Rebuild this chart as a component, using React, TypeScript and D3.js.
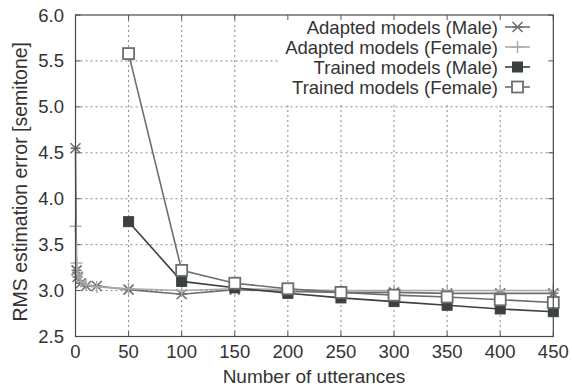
import React from 'react';
import * as d3 from 'd3';

// utterance counts
const xAdapted = [0, 1, 2, 5, 10, 20, 50, 100, 150, 200, 250, 300, 350, 400, 450];
const xTrained = [50, 100, 150, 200, 250, 300, 350, 400, 450];

// RMS error [semitone]
const adaptedMale = [4.55, 3.22, 3.15, 3.08, 3.05, 3.05, 3.01, 2.96, 3.01, 2.99, 2.98, 2.98, 2.97, 2.97, 2.97];
const adaptedFemale = [3.7, 3.3, 3.18, 3.1, 3.06, 3.04, 3.02, 3.0, 3.02, 3.01, 3.0, 3.0, 3.0, 3.0, 3.0];
const trainedMale = [3.75, 3.1, 3.03, 2.97, 2.92, 2.88, 2.84, 2.8, 2.77];
const trainedFemale = [5.58, 3.22, 3.08, 3.02, 2.98, 2.95, 2.93, 2.9, 2.87];

const xTicks = [0, 50, 100, 150, 200, 250, 300, 350, 400, 450];
const yTicks = [2.5, 3.0, 3.5, 4.0, 4.5, 5.0, 5.5, 6.0];

const seriesNames = [
  'Adapted models (Male)',
  'Adapted models (Female)',
  'Trained models (Male)',
  'Trained models (Female)',
];

const W = 572, H = 388;
const left = 75.5, right = 553.3, top = 15, bottom = 336.5;
const FONT = 'Liberation Sans, Arial, sans-serif';

const x = d3.scaleLinear().domain([0, 450]).range([left, right]);
const y = d3.scaleLinear().domain([2.5, 6]).range([bottom, top]);

type Sym = 'star' | 'plus' | 'fbox' | 'obox';

function Marker({ cx, cy, sym, color }: { cx: number; cy: number; sym: Sym; color: string }) {
  if (sym === 'star') {
    const s = 5;
    return (
      <g stroke={color} strokeWidth={1.6}>
        <line x1={cx - s} y1={cy - s} x2={cx + s} y2={cy + s} />
        <line x1={cx - s} y1={cy + s} x2={cx + s} y2={cy - s} />
        <line x1={cx - s} y1={cy} x2={cx + s} y2={cy} />
      </g>
    );
  }
  if (sym === 'plus') {
    const s = 6;
    return (
      <g stroke={color} strokeWidth={1.4}>
        <line x1={cx - s} y1={cy} x2={cx + s} y2={cy} />
        <line x1={cx} y1={cy - s} x2={cx} y2={cy + s} />
      </g>
    );
  }
  if (sym === 'fbox') {
    return <rect x={cx - 5} y={cy - 5} width={10} height={10} fill={color} stroke={color} strokeWidth={1} />;
  }
  return <rect x={cx - 5.5} y={cy - 5.5} width={11} height={11} fill="white" stroke={color} strokeWidth={1.8} />;
}

const series = [
  { name: seriesNames[0], xs: xAdapted, ys: adaptedMale, sym: 'star' as Sym, color: '#6c6f74' },
  { name: seriesNames[1], xs: xAdapted, ys: adaptedFemale, sym: 'plus' as Sym, color: '#a9aaa8' },
  { name: seriesNames[2], xs: xTrained, ys: trainedMale, sym: 'fbox' as Sym, color: '#3b413d' },
  { name: seriesNames[3], xs: xTrained, ys: trainedFemale, sym: 'obox' as Sym, color: '#6e6e6e' },
];

export default function App() {
  const line = d3.line<[number, number]>().x(d => x(d[0])).y(d => y(d[1]));

  return (
    <>
      <style>{'body{margin:0;background:#fff}'}</style>
      <svg width={W} height={H} style={{ display: 'block' }} fontFamily={FONT}>
        <rect width={W} height={H} fill="white" />

        {/* grid */}
        <g stroke="#8a8a8a" strokeWidth={1} strokeDasharray="2,3">
          {xTicks.slice(1, -1).map(t => (
            <line key={'gx' + t} x1={x(t)} x2={x(t)} y1={top} y2={bottom} />
          ))}
          {yTicks.slice(1, -1).map(t => (
            <line key={'gy' + t} x1={left} x2={right} y1={y(t)} y2={y(t)} />
          ))}
        </g>

        {/* key background hides grid */}
        <rect x={280} y={top} width={right - 280} height={89} fill="white" />

        {/* ticks */}
        <g stroke="#555" strokeWidth={1}>
          {xTicks.map(t => (
            <g key={'tx' + t}>
              <line x1={x(t)} x2={x(t)} y1={bottom} y2={bottom - 5} />
              <line x1={x(t)} x2={x(t)} y1={top} y2={top + 5} />
            </g>
          ))}
          {yTicks.map(t => (
            <g key={'ty' + t}>
              <line x1={left} x2={left + 5} y1={y(t)} y2={y(t)} />
              <line x1={right} x2={right - 5} y1={y(t)} y2={y(t)} />
            </g>
          ))}
        </g>

        {/* data */}
        {series.map(s => {
          const pts = s.xs.map((v, i) => [v, s.ys[i]] as [number, number]);
          return (
            <g key={s.name}>
              <path d={line(pts) || ''} fill="none" stroke={s.color} strokeWidth={1.6} />
              {pts.map((p, i) => (
                <Marker key={i} cx={x(p[0])} cy={y(p[1])} sym={s.sym} color={s.color} />
              ))}
            </g>
          );
        })}

        {/* border */}
        <rect x={left} y={top} width={right - left} height={bottom - top} fill="none" stroke="#4a4a4a" strokeWidth={1.2} />

        {/* tick labels */}
        <g fontSize={18.5} fill="#333">
          {yTicks.map(t => (
            <text key={'ly' + t} x={64} y={y(t) + 6.5} textAnchor="end">{t.toFixed(1)}</text>
          ))}
          {xTicks.map(t => (
            <text key={'lx' + t} x={x(t)} y={358} textAnchor="middle">{t}</text>
          ))}
        </g>

        {/* axis titles */}
        <text x={314} y={383} textAnchor="middle" fontSize={19} fill="#333">Number of utterances</text>
        <text transform={`translate(27,${(top + bottom) / 2 + 6}) rotate(-90)`} textAnchor="middle" fontSize={19.5} fill="#333">
          RMS estimation error [semitone]
        </text>

        {/* legend */}
        {series.map((s, i) => {
          const cy = 27 + i * 20;
          return (
            <g key={'lg' + i}>
              <text x={498} y={cy + 6.5} textAnchor="end" fontSize={18.5} fill="#333">{s.name}</text>
              <line x1={505} x2={530} y1={cy} y2={cy} stroke={s.color} strokeWidth={1.6} />
              <Marker cx={517.5} cy={cy} sym={s.sym} color={s.color} />
            </g>
          );
        })}
      </svg>
    </>
  );
}
